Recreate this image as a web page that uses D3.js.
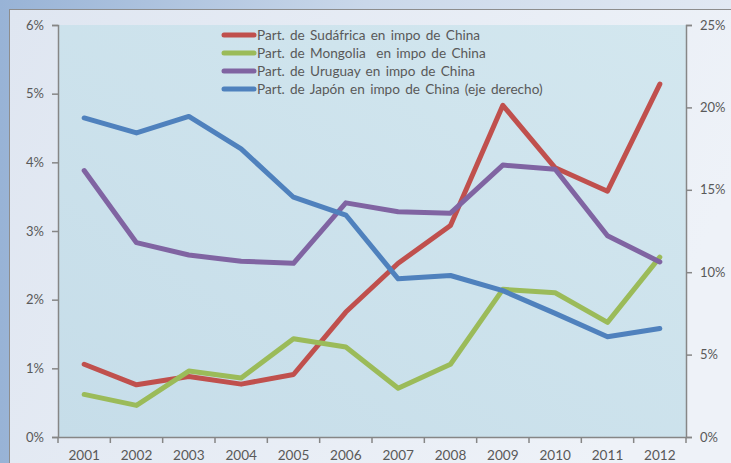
<!DOCTYPE html>
<html>
<head>
<meta charset="utf-8">
<script src="https://cdn.jsdelivr.net/npm/d3@7"></script>
<style>
  body { margin: 0; padding: 0; overflow: hidden; }
  svg { display: block; }
  text { font-family: Lato, "Open Sans", sans-serif; fill: #595959; }
</style>
</head>
<body>
<svg id="chart"></svg>
<script>
// data
var years = ["2001", "2002", "2003", "2004", "2005", "2006", "2007", "2008", "2009", "2010", "2011", "2012"];
var sudafrica = [1.06, 0.76, 0.88, 0.77, 0.91, 1.82, 2.53, 3.08, 4.83, 3.92, 3.58, 5.14];
var mongolia = [0.62, 0.46, 0.96, 0.86, 1.43, 1.31, 0.71, 1.06, 2.15, 2.10, 1.67, 2.62];
var uruguay = [3.88, 2.83, 2.65, 2.56, 2.53, 3.41, 3.28, 3.26, 3.96, 3.90, 2.93, 2.55];
var japon = [19.36, 18.45, 19.45, 17.48, 14.55, 13.47, 9.6, 9.8, 8.88, 7.5, 6.08, 6.58];
var leftTicks = [0, 1, 2, 3, 4, 5, 6];
var rightTicks = [0, 5, 10, 15, 20, 25];
var legendLabels = [
  "Part. de Sudáfrica en impo de China",
  "Part. de Mongolia  en impo de China",
  "Part. de Uruguay en impo de China",
  "Part. de Japón en impo de China (eje derecho)"
];

var width = 731;
var height = 463;
var plot = { left: 58, right: 686, top: 25, bottom: 437 };
var colors = ["#c0504d", "#9bbb59", "#8064a2", "#4f81bd"];

var svg = d3.select("#chart").attr("width", width).attr("height", height);
var defs = svg.append("defs");

// gradients
var g1 = defs.append("linearGradient").attr("id", "outerBg")
  .attr("x1", "0").attr("y1", "0").attr("x2", "1").attr("y2", "0");
g1.append("stop").attr("offset", "0").attr("stop-color", "#98b3d6");
g1.append("stop").attr("offset", "0.5").attr("stop-color", "#cad8ea");
g1.append("stop").attr("offset", "1").attr("stop-color", "#e2e9f3");

var g2 = defs.append("linearGradient").attr("id", "frameBg")
  .attr("x1", "0").attr("y1", "0").attr("x2", "1").attr("y2", "0.3");
g2.append("stop").attr("offset", "0").attr("stop-color", "#dfe6f1");
g2.append("stop").attr("offset", "1").attr("stop-color", "#eef2f8");

var g3 = defs.append("linearGradient").attr("id", "plotBg")
  .attr("x1", "0").attr("y1", "1").attr("x2", "1").attr("y2", "0");
g3.append("stop").attr("offset", "0").attr("stop-color", "#c6dde9");
g3.append("stop").attr("offset", "1").attr("stop-color", "#d3e7ef");

svg.append("rect").attr("width", width).attr("height", height).attr("fill", "url(#outerBg)");
svg.append("rect")
  .attr("x", 9.5).attr("y", 9.5).attr("width", 740).attr("height", 470)
  .attr("fill", "url(#frameBg)").attr("stroke", "#8d8d8d").attr("stroke-width", 1);

svg.append("rect")
  .attr("x", plot.left).attr("y", plot.top)
  .attr("width", plot.right - plot.left).attr("height", plot.bottom - plot.top)
  .attr("fill", "url(#plotBg)");

// scales
var x = d3.scaleBand().domain(years).range([plot.left, plot.right]);
var yL = d3.scaleLinear().domain([0, 6]).range([plot.bottom, plot.top]);
var yR = d3.scaleLinear().domain([0, 25]).range([plot.bottom, plot.top]);

// axes
var xAxis = svg.append("g").attr("transform", "translate(0," + plot.bottom + ")")
  .call(d3.axisBottom(x).tickSize(0).tickPadding(13));
xAxis.selectAll(".tick text").attr("font-size", "13.6px").attr("fill", "#595959");
xAxis.select(".domain").attr("stroke", "#868686").attr("stroke-width", 1.5);
// ticks at category boundaries
var bounds = years.map(function (d) { return x(d); }).concat([plot.right]);
xAxis.selectAll(".bound").data(bounds).enter().append("line")
  .attr("x1", function (d) { return d; }).attr("x2", function (d) { return d; })
  .attr("y1", 0).attr("y2", 6).attr("stroke", "#868686").attr("stroke-width", 1.5);

var leftAxis = svg.append("g").attr("transform", "translate(" + plot.left + ",0)")
  .call(d3.axisLeft(yL).tickValues(leftTicks).tickSize(6).tickPadding(8)
    .tickFormat(function (d) { return d + "%"; }));
var rightAxis = svg.append("g").attr("transform", "translate(" + plot.right + ",0)")
  .call(d3.axisRight(yR).tickValues(rightTicks).tickSize(6).tickPadding(8)
    .tickFormat(function (d) { return d + "%"; }));

[leftAxis, rightAxis].forEach(function (a) {
  a.select(".domain").attr("stroke", "#868686").attr("stroke-width", 1.5);
  a.selectAll(".tick line").attr("stroke", "#868686").attr("stroke-width", 1.5);
  a.selectAll(".tick text").attr("font-size", "13px").attr("fill", "#595959");
});

// lines
var series = [
  { values: sudafrica, y: yL },
  { values: mongolia, y: yL },
  { values: uruguay, y: yL },
  { values: japon, y: yR }
];

series.forEach(function (s, i) {
  var line = d3.line()
    .x(function (d, j) { return x(years[j]) + x.bandwidth() / 2; })
    .y(function (d) { return s.y(d); });
  svg.append("path")
    .attr("d", line(s.values))
    .attr("fill", "none")
    .attr("stroke", colors[i])
    .attr("stroke-width", 5)
    .attr("stroke-linecap", "round")
    .attr("stroke-linejoin", "round");
});

// legend
var legend = svg.append("g").attr("transform", "translate(222,35)");
legendLabels.forEach(function (label, i) {
  var row = legend.append("g").attr("transform", "translate(0," + (i * 18) + ")");
  row.append("line")
    .attr("x1", 2).attr("x2", 32).attr("y1", 0).attr("y2", 0)
    .attr("stroke", colors[i]).attr("stroke-width", 5).attr("stroke-linecap", "round");
  row.append("text")
    .attr("x", 35).attr("y", 5)
    .attr("font-size", "13.6px")
    .attr("fill", "#606060")
    .style("white-space", "pre")
    .style("word-spacing", "1.8px")
    .text(label);
});
</script>
</body>
</html>
